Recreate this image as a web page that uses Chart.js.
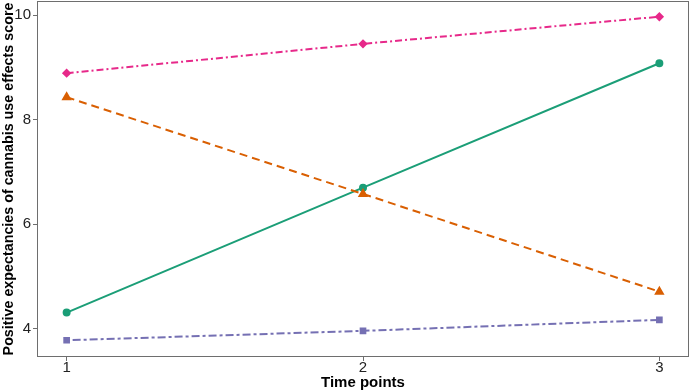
<!DOCTYPE html>
<html>
<head>
<meta charset="utf-8">
<script src="https://cdn.jsdelivr.net/npm/chart.js@4"></script>
<style>
html,body{margin:0;padding:0;background:#fff;}
#wrap{width:690px;height:392px;}
</style>
</head>
<body>
<div id="wrap"><canvas id="c" width="690" height="392"></canvas></div>
<script>
const timePoints = [1, 2, 3];
const xTickValues = [1, 2, 3];
const yTickValues = [4, 6, 8, 10];
const seriesGreen = [4.31, 6.70, 9.08];
const seriesOrange = [8.43, 6.58, 4.71];
const seriesPink = [8.89, 9.45, 9.97];
const seriesPurple = [3.78, 3.96, 4.17];
const xTitle = "Time points";
const yTitle = "Positive expectancies of cannabis use effects score";

function pts(vals){ return timePoints.map((t,i)=>({x:t,y:vals[i]})); }

const font = "'Liberation Sans', Arial, sans-serif";

const borderPlugin = {
  id:'panelBorder',
  afterDraw(chart){
    const {ctx, chartArea:a} = chart;
    ctx.save();
    ctx.strokeStyle = '#6e6e6e';
    ctx.lineWidth = 1;
    ctx.strokeRect(Math.round(a.left)+0.5, Math.round(a.top)+0.5, Math.round(a.right-a.left)-1, Math.round(a.bottom-a.top)-1);
    ctx.fillStyle = '#222';
    ctx.font = "15px " + font;
    const xs = chart.scales.x, ys = chart.scales.y;
    ctx.textAlign = 'center'; ctx.textBaseline = 'top';
    xTickValues.forEach(v => ctx.fillText(String(v), xs.getPixelForValue(v), a.bottom + 3));
    ctx.textAlign = 'right'; ctx.textBaseline = 'middle';
    yTickValues.forEach(v => ctx.fillText(String(v), a.left - 6, ys.getPixelForValue(v)));
    ctx.restore();
  }
};

new Chart(document.getElementById('c'), {
  type: 'line',
  data: {
    datasets: [
      {data: pts(seriesPurple), borderColor:'#7570B3', backgroundColor:'#7570B3', borderWidth:2, borderDash:[3,3,8,3], pointStyle:'rect', pointRadius:3.3},
      {data: pts(seriesOrange), borderColor:'#D95F02', backgroundColor:'#D95F02', borderWidth:2, borderDash:[8,5], pointStyle:'triangle', pointRadius:4},
      {data: pts(seriesGreen), borderColor:'#1B9E77', backgroundColor:'#1B9E77', borderWidth:2, pointStyle:'circle', pointRadius:3},
      {data: pts(seriesPink), borderColor:'#E7298A', backgroundColor:'#E7298A', borderWidth:2, borderDash:[7,3,2,3], pointStyle:'rectRot', pointRadius:3.3}
    ]
  },
  options: {
    responsive:false,
    animation:false,
    devicePixelRatio:1,
    layout:{autoPadding:false, padding:{top:1,right:1,left:0,bottom:0}},
    plugins:{legend:{display:false}, tooltip:{enabled:false}},
    scales:{
      x:{
        type:'linear', min:0.9, max:3.1,
        afterBuildTicks(s){ s.ticks = xTickValues.map(v=>({value:v})); },
        afterFit(s){ s.height = 35; },
        grid:{drawOnChartArea:false, drawTicks:true, tickLength:4, color:'#6e6e6e'},
        border:{display:false},
        ticks:{display:false},
        title:{display:true, text:xTitle, font:{family:font,size:15,weight:'bold'}, color:'#000', padding:{top:0,bottom:0}}
      },
      y:{
        type:'linear', min:3.46, max:10.27,
        afterBuildTicks(s){ s.ticks = yTickValues.map(v=>({value:v})); },
        afterFit(s){ s.width = 37; },
        grid:{drawOnChartArea:false, drawTicks:true, tickLength:4, color:'#6e6e6e'},
        border:{display:false},
        ticks:{display:false},
        title:{display:true, text:yTitle, font:{family:font,size:14.3,weight:'bold'}, color:'#000', padding:{top:0,bottom:0}}
      }
    }
  },
  plugins:[borderPlugin]
});
</script>
</body>
</html>
